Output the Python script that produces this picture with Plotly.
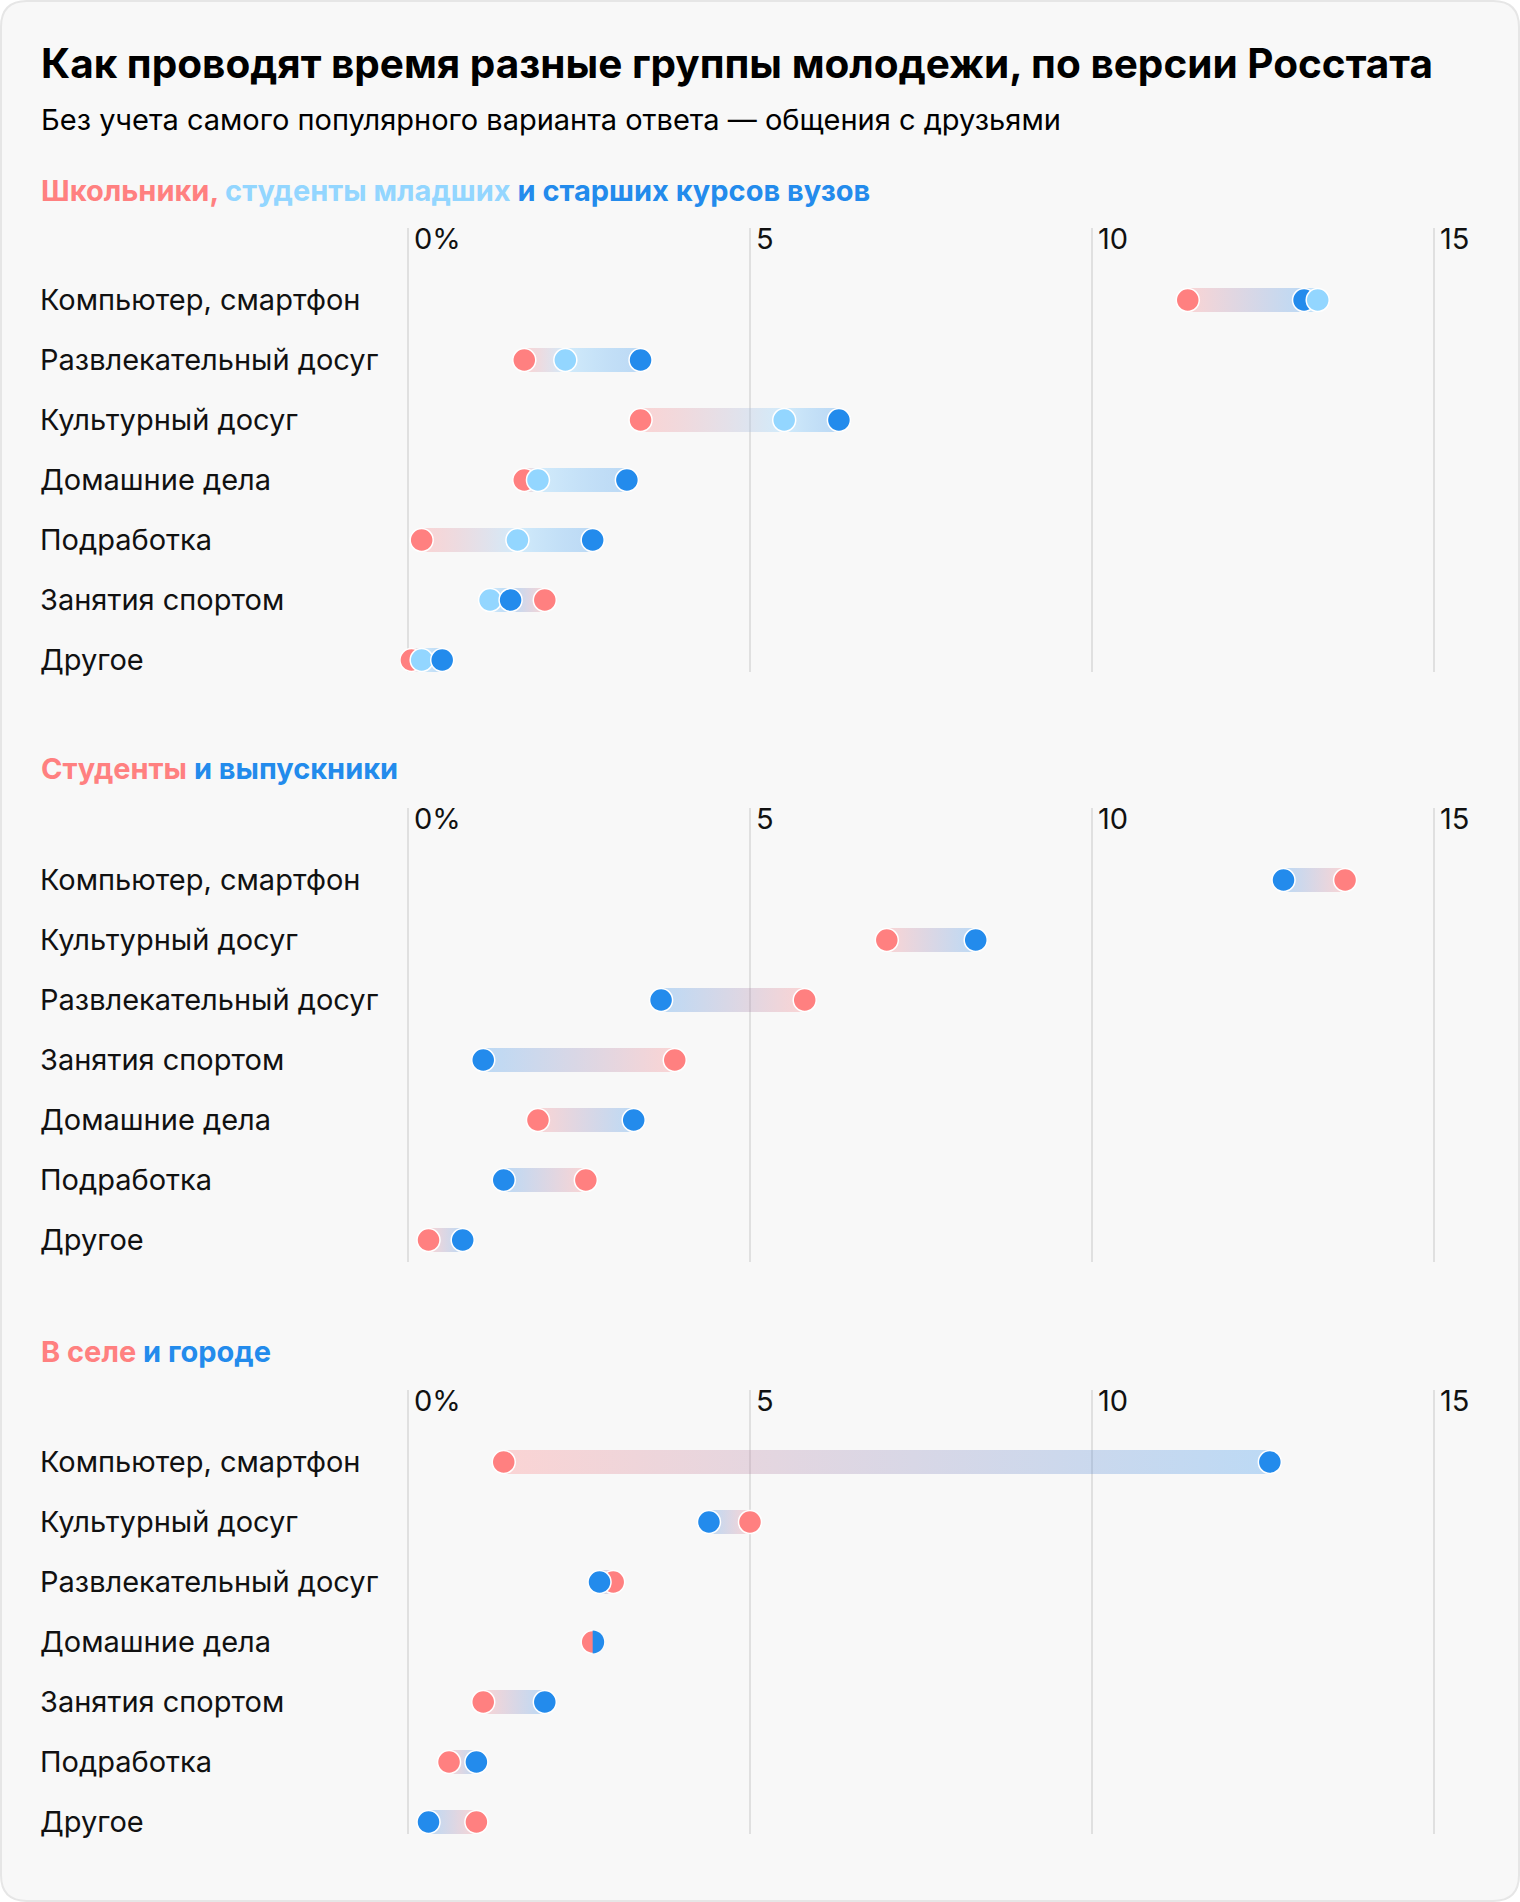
import plotly.graph_objects as go

W, H = 1520, 1902

title_text = "Как проводят время разные группы молодежи, по версии Росстата"
subtitle_text = "Без учета самого популярного варианта ответа — общения с друзьями"

tick_vals = [0, 5, 10, 15]
tick_labels = ["0%", "5", "10", "15"]

# Panel 1: schoolchildren, junior and senior university students
p1_categories = ["Компьютер, смартфон", "Развлекательный досуг", "Культурный досуг",
                 "Домашние дела", "Подработка", "Занятия спортом", "Другое"]
p1_schoolchildren = [11.4, 1.7, 3.4, 1.7, 0.2, 2.0, 0.05]
p1_junior_students = [13.3, 2.3, 5.5, 1.9, 1.6, 1.2, 0.2]
p1_senior_students = [13.1, 3.4, 6.3, 3.2, 2.7, 1.5, 0.5]

# Panel 2: students and graduates
p2_categories = ["Компьютер, смартфон", "Культурный досуг", "Развлекательный досуг",
                 "Занятия спортом", "Домашние дела", "Подработка", "Другое"]
p2_students = [13.7, 7.0, 5.8, 3.9, 1.9, 2.6, 0.3]
p2_graduates = [12.8, 8.3, 3.7, 1.1, 3.3, 1.4, 0.8]

# Panel 3: village and city
p3_categories = ["Компьютер, смартфон", "Культурный досуг", "Развлекательный досуг",
                 "Домашние дела", "Занятия спортом", "Подработка", "Другое"]
p3_village = [1.4, 5.0, 3.0, 2.7, 1.1, 0.6, 1.0]
p3_city = [12.6, 4.4, 2.8, 2.7, 2.0, 1.0, 0.3]

RED, LIGHT, DARK = "#FF8080", "#93D6FF", "#238BEC"
RED_T = "rgba(255,128,128,0.30)"
LIGHT_T = "rgba(147,214,255,0.38)"
DARK_T = "rgba(35,139,236,0.28)"

FONT = "Inter"
TEXT = "#111111"
GRID = "#e0e0e0"

PX_PER_UNIT = 68.4
X0_PX = 408
ROW_PX = 60

panels = [
    dict(cats=p1_categories,
         series=[(p1_schoolchildren, RED, RED_T), (p1_junior_students, LIGHT, LIGHT_T),
                 (p1_senior_students, DARK, DARK_T)],
         order="value", top=228, bottom=672, row0=300, tick_y=238, header_y=190,
         header=(f"<b><span style='color:{RED}'>Школьники,</span> "
                 f"<span style='color:{LIGHT}'>студенты младших</span> "
                 f"<span style='color:{DARK}'>и старших курсов вузов</span></b>")),
    dict(cats=p2_categories,
         series=[(p2_students, RED, RED_T), (p2_graduates, DARK, DARK_T)],
         order="series", top=808, bottom=1262, row0=880, tick_y=818, header_y=769,
         header=(f"<b><span style='color:{RED}'>Студенты</span> "
                 f"<span style='color:{DARK}'>и выпускники</span></b>")),
    dict(cats=p3_categories,
         series=[(p3_village, RED, RED_T), (p3_city, DARK, DARK_T)],
         order="series", top=1390, bottom=1834, row0=1462, tick_y=1400, header_y=1351,
         header=(f"<b><span style='color:{RED}'>В селе</span> "
                 f"<span style='color:{DARK}'>и городе</span></b>")),
]

fig = go.Figure()
annotations = []
shapes = []

fx = lambda x: x / W
fy = lambda y: 1 - y / H

# card background
x0, y0, x1, y1, r = 1, 1, 1519, 1901, 26
card = (f"M {fx(x0 + r)},{fy(y0)} L {fx(x1 - r)},{fy(y0)} Q {fx(x1)},{fy(y0)} {fx(x1)},{fy(y0 + r)} "
        f"L {fx(x1)},{fy(y1 - r)} Q {fx(x1)},{fy(y1)} {fx(x1 - r)},{fy(y1)} "
        f"L {fx(x0 + r)},{fy(y1)} Q {fx(x0)},{fy(y1)} {fx(x0)},{fy(y1 - r)} "
        f"L {fx(x0)},{fy(y0 + r)} Q {fx(x0)},{fy(y0)} {fx(x0 + r)},{fy(y0)} Z")
shapes.append(dict(type="path", path=card, xref="paper", yref="paper",
                   fillcolor="#f8f8f8", line=dict(color="#e6e6e6", width=2), layer="below"))

annotations.append(dict(text=f"<b>{title_text}</b>", xref="paper", yref="paper",
                        x=fx(39), y=fy(63), xanchor="left", yanchor="middle", showarrow=False,
                        font=dict(family=FONT, size=40.5, color="#000")))
annotations.append(dict(text=subtitle_text, xref="paper", yref="paper",
                        x=fx(39), y=fy(119), xanchor="left", yanchor="middle", showarrow=False,
                        font=dict(family=FONT, size=29, color="#000")))

k = 0
R = 11.5
half = (f"M 0,{-R} C {0.5523*R},{-R} {R},{-0.5523*R} {R},0 "
        f"C {R},{0.5523*R} {0.5523*R},{R} 0,{R} Z")

for p in panels:
    k += 1
    xa = "x" if k == 1 else f"x{k}"
    ya = "y" if k == 1 else f"y{k}"
    lay_x = "xaxis" if k == 1 else f"xaxis{k}"
    lay_y = "yaxis" if k == 1 else f"yaxis{k}"

    top, bottom, row0 = p["top"], p["bottom"], p["row0"]
    fig.layout[lay_x] = dict(domain=[fx(400), fx(1460)],
                             range=[(400 - X0_PX) / PX_PER_UNIT, (1460 - X0_PX) / PX_PER_UNIT],
                             tickvals=tick_vals, showticklabels=False, showgrid=True,
                             gridcolor=GRID, gridwidth=1.5, zeroline=False, showline=False,
                             ticks="", anchor=ya, fixedrange=True)
    fig.layout[lay_y] = dict(domain=[fy(bottom), fy(top)],
                             range=[(bottom - row0) / ROW_PX, -(row0 - top) / ROW_PX],
                             showticklabels=False, showgrid=False, zeroline=False,
                             showline=False, ticks="", anchor=xa, fixedrange=True)

    annotations.append(dict(text=p["header"], xref="paper", yref="paper",
                            x=fx(39), y=fy(p["header_y"]), xanchor="left", yanchor="middle",
                            showarrow=False, font=dict(family=FONT, size=29)))
    for v, lab in zip(tick_vals, tick_labels):
        annotations.append(dict(text=lab, xref=xa, yref=ya, x=v,
                                y=(p["tick_y"] - row0) / ROW_PX, xanchor="left", yanchor="middle",
                                xshift=4, showarrow=False,
                                font=dict(family=FONT, size=29, color=TEXT)))

    dx, dy, dc = [], [], []
    for i, cat in enumerate(p["cats"]):
        annotations.append(dict(text=cat, xref="paper", yref=ya, x=fx(38), y=i,
                                xanchor="left", yanchor="middle", yshift=1, showarrow=False,
                                font=dict(family=FONT, size=29, color=TEXT)))
        pts = [(s[0][i], s[1], s[2]) for s in p["series"]]
        lo = min(q[0] for q in pts)
        hi = max(q[0] for q in pts)
        if hi - lo > 1e-9:
            stops = sorted(pts, key=lambda q: q[0])
            cs = [[(q[0] - lo) / (hi - lo), q[2]] for q in stops]
            cs[0][0], cs[-1][0] = 0.0, 1.0
            fig.add_trace(go.Scatter(
                x=[lo, hi, hi, lo, lo], y=[i - 0.2, i - 0.2, i + 0.2, i + 0.2, i - 0.2],
                xaxis=xa, yaxis=ya, mode="lines", fill="toself",
                line=dict(width=0, color="rgba(0,0,0,0)"),
                fillgradient=dict(type="horizontal", colorscale=cs),
                hoverinfo="skip", showlegend=False))
        draw = sorted(pts, key=lambda q: q[0]) if p["order"] == "value" else pts
        if len(pts) == 2 and abs(pts[0][0] - pts[1][0]) < 1e-9:
            dx.append(pts[0][0]); dy.append(i); dc.append(pts[0][1])
            shapes.append(dict(type="path", xref=xa, yref=ya, xsizemode="pixel",
                               ysizemode="pixel", xanchor=pts[1][0], yanchor=i, path=half,
                               fillcolor=pts[1][1], line=dict(width=0), layer="above"))
            continue
        for q in draw:
            dx.append(q[0]); dy.append(i); dc.append(q[1])

    fig.add_trace(go.Scatter(x=dx, y=dy, xaxis=xa, yaxis=ya, mode="markers",
                             marker=dict(size=23, color=dc, line=dict(color="white", width=1.5)),
                             hoverinfo="skip", showlegend=False))

fig.update_layout(width=W, height=H, margin=dict(l=0, r=0, t=0, b=0),
                  paper_bgcolor="white", plot_bgcolor="rgba(0,0,0,0)",
                  annotations=annotations, shapes=shapes, showlegend=False,
                  font=dict(family=FONT))

fig.write_html("out.html")
